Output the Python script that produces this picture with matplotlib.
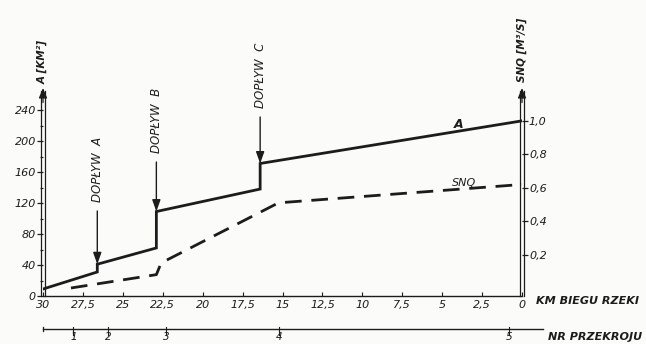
import matplotlib.pyplot as plt
from matplotlib.transforms import offset_copy

# catchment area A along the river (km from mouth, km^2)
km_a = [30, 26.6, 26.6, 22.9, 22.9, 16.4, 16.4, 0]
area_a = [9, 31, 41, 62, 109, 138, 171, 226]

# SNQ along the river (km, m3/s)
km_snq = [28.25, 22.9, 22.6, 15.25, 0]
snq = [0.0, 0.08, 0.15, 0.51, 0.62]

# tributaries: (label, km, area at the mouth)
tributaries = [("DOPŁYW  A", 26.6, 41), ("DOPŁYW  B", 22.9, 109), ("DOPŁYW  C", 16.4, 171)]
trib_text_top = [137, 88, 43]  # pixel rows of the label tops

km_ticks = [30, 27.5, 25, 22.5, 20, 17.5, 15, 12.5, 10, 7.5, 5, 2.5, 0]
a_ticks = [0, 40, 80, 120, 160, 200, 240]
snq_ticks = [0.2, 0.4, 0.6, 0.8, 1.0]

sections = ["1", "2", "3", "4", "5"]
section_km = [28.1, 25.9, 22.3, 15.2, 0.8]

def fmt(v):
    return ("%g" % v).replace(".", ",")

ink = "#1c1c1c"
plt.rcParams["font.family"] = ["DejaVu Sans"]
plt.rcParams["font.style"] = "italic"

W, H = 646, 344
fig = plt.figure(figsize=(W / 100, H / 100), dpi=100)
fig.patch.set_facecolor("#fbfbf9")

x0, x1, ybot, ytop = 43, 522, 296, 88
ax = fig.add_axes([x0 / W, (H - ybot) / H, (x1 - x0) / W, (ybot - ytop) / H])
ax.set_facecolor("none")
ax.set_xlim(30, 0)
ax.set_ylim(0, (ybot - ytop) / 0.775)

ax2 = ax.twinx()
ax2.set_ylim(-8 / 167, (288 - ytop) / 167)

for a in (ax, ax2):
    for s in a.spines.values():
        s.set_visible(False)

# main lines
ax.plot(km_a, area_a, color=ink, lw=2.0, solid_joinstyle="miter")
ax2.plot(km_snq, snq, color=ink, lw=2.0, dashes=(6, 3.5))

# ticks
ax.set_xticks(km_ticks)
ax.set_xticklabels([fmt(v) for v in km_ticks])
ax.tick_params(axis="x", direction="in", length=3, width=0.8, color=ink,
               labelsize=8, labelcolor=ink, pad=3)
ax.set_yticks(a_ticks)
ax.set_yticks(range(20, 260, 40), minor=True)
ax.tick_params(axis="y", which="major", direction="out", length=4, width=0.9,
               color=ink, labelsize=8, labelcolor=ink, pad=1)
ax.tick_params(axis="y", which="minor", direction="out", length=2.5, width=0.8, color=ink)
ax2.set_yticks(snq_ticks)
ax2.set_yticklabels([("%.1f" % v).replace(".", ",") for v in snq_ticks])
ax2.tick_params(axis="y", direction="out", length=4, width=0.9, color=ink,
                labelsize=8, labelcolor=ink, pad=1)

# baseline and double arrow axes
ax.plot([30, 0], [0, 0], color=ink, lw=1.0, clip_on=False)
for xa in (30, 0):
    for dx in (-2, 2):
        tr = offset_copy(ax.get_xaxis_transform(), fig=fig, x=dx * 0.72, y=0, units="points")
        ax.plot([xa, xa], [0, 0.985], color=ink, lw=0.9, transform=tr, clip_on=False)
    ax.annotate("", xy=(xa, 1.0), xytext=(xa, 0.93), xycoords=ax.get_xaxis_transform(),
                arrowprops=dict(arrowstyle="-|>,head_length=0.6,head_width=0.25",
                                color=ink, lw=0.9, shrinkA=0, shrinkB=0))

ax.text(30, 1.02, "A [KM²]", transform=ax.get_xaxis_transform(), rotation=90,
        ha="center", va="bottom", fontsize=7.5, color=ink, fontweight="bold")
ax.text(0, 1.03, "SNQ [M³/S]", transform=ax.get_xaxis_transform(), rotation=90,
        ha="center", va="bottom", fontsize=7.5, color=ink, fontweight="bold")

# tributary arrows
pix_to_ax = lambda py: (ybot - py) / (ybot - ytop)
for (lab, km, a), top in zip(tributaries, trib_text_top):
    ax.text(km, pix_to_ax(top), lab, transform=ax.get_xaxis_transform(), rotation=90,
            ha="center", va="top", fontsize=8.5, color=ink)
    ax.annotate("", xy=(km, a), xytext=(km, (ybot - (top + 74)) / 0.775),
                arrowprops=dict(arrowstyle="-|>,head_length=0.7,head_width=0.25",
                                color=ink, lw=1.0, shrinkA=0, shrinkB=0))

# series labels
ax.text(4.0, 221, "A", ha="center", va="center", fontsize=9, color=ink, fontweight="bold")
ax2.text(3.6, 0.60, "SNQ", ha="center", va="bottom", fontsize=8, color=ink)

ax.text(-0.9, 0, "KM BIEGU RZEKI", transform=ax.get_xaxis_transform(),
        ha="left", va="top", fontsize=8, color=ink, fontweight="bold")

# section numbers line
tb = ax.get_xaxis_transform()
ys = -(329 - ybot) / (ybot - ytop)
ax.plot([30, -1.3], [ys, ys], color=ink, lw=1.0, transform=tb, clip_on=False)
ax.plot([30, 30], [ys + 0.012, ys - 0.012], color=ink, lw=0.9, transform=tb, clip_on=False)
for lab, km in zip(sections, section_km):
    ax.plot([km, km], [ys + 0.01, ys - 0.03], color=ink, lw=0.8, transform=tb, clip_on=False)
    ax.text(km, ys - 0.015, lab, transform=tb, ha="center", va="top", fontsize=7.5, color=ink)
ax.text(-1.65, ys - 0.04, "NR PRZEKROJU", transform=tb, ha="left", va="center",
        fontsize=8, color=ink, fontweight="bold")

fig.savefig("out.png", dpi=100, facecolor=fig.get_facecolor())
